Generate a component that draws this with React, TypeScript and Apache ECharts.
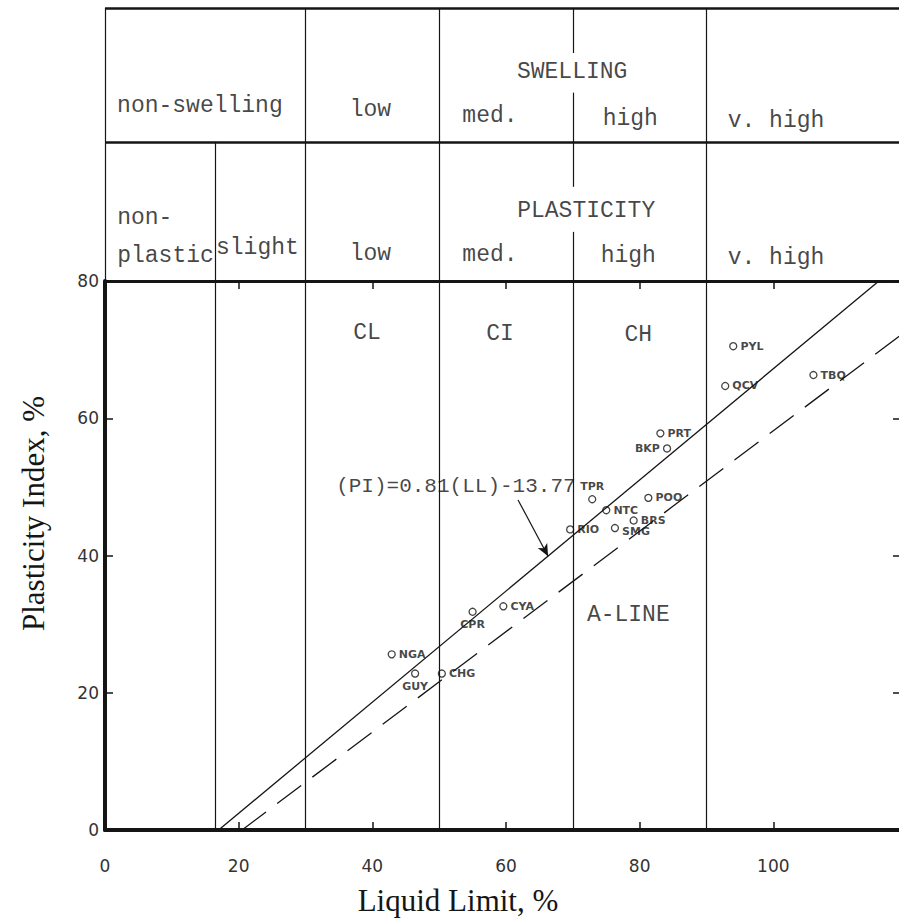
import React, { useEffect, useRef } from 'react';
import * as echarts from 'echarts';

// ---- Sample data ----
const sampleNames = ['PYL', 'QCV', 'TBQ', 'PRT', 'BKP', 'TPR', 'NTC', 'POO', 'BRS', 'RIO', 'SMG', 'NGA', 'GUY', 'CHG', 'CPR', 'CYA'];
const liquidLimit = [94.0, 92.8, 106.0, 83.1, 84.1, 72.9, 75.0, 81.3, 79.1, 69.6, 76.3, 42.9, 46.4, 50.4, 55.0, 59.6];
const plasticityIndex = [70.5, 64.7, 66.3, 57.8, 55.6, 48.2, 46.6, 48.4, 45.1, 43.8, 44.0, 25.6, 22.8, 22.8, 31.8, 32.6];
const labelSides = ['right', 'right', 'right', 'right', 'left', 'top', 'right', 'right', 'right', 'right', 'right', 'right', 'bottom', 'right', 'bottom', 'right'];

// Lines
const fitLineEnds = [[17, 0], [115.8, 80]];
const aLineEnds = [[20.5, 0], [120, 72.8]];
const boundaryLL = [16.5, 30, 50, 70, 90];
const arrowEnds = [[61.8, 48.1], [66.3, 39.9]];

// Axis
const xMin = 0, xMax = 120, xStep = 20;
const yMin = 0, yMax = 80, yStep = 20;

// Region annotations inside the plot
const regionTexts = ['CL', 'CI', 'CH', 'A-LINE', '(PI)=0.81(LL)-13.77'];
const regionLL = [39.2, 59.1, 79.8, 78.3, 52.5];
const regionPI = [72.4, 72.3, 72.2, 31.3, 50.1];

// Classification table (rows: 0-1 plasticity, 1-2 swelling)
const tableTexts = ['SWELLING', 'non-swelling', 'low', 'med.', 'high', 'v. high', 'PLASTICITY', 'non-\nplastic', 'slight', 'low', 'med.', 'high', 'v. high'];
const tableLL = [69.9, 14.2, 39.7, 57.6, 78.6, 100.4, 72.0, 1.0, 22.8, 39.7, 57.6, 78.3, 100.4];
const tableRow = [1.53, 1.28, 1.25, 1.21, 1.19, 1.17, 0.51, 0.32, 0.24, 0.2, 0.19, 0.18, 0.17];
const tableVLines = [[0, 0, 2], [16.5, 0, 1.02], [30, 0, 2], [50, 0, 2], [90, 0, 2], [70, 1.67, 2], [70, 0.69, 1.38], [70, 0, 0.36]];
const tableHLines = [2, 1.02];

const INK = '#151515';
const MONO = 'Liberation Mono';

export default function App() {
  const ref = useRef<HTMLDivElement>(null);
  useEffect(() => {
    if (!ref.current) return;
    const chart = echarts.init(ref.current, undefined, { renderer: 'svg' });

    const points = sampleNames.map((n, i) => ({
      name: n,
      value: [liquidLimit[i], plasticityIndex[i]],
      label: n === 'SMG' ? { position: 'right', offset: [0, 3] } : { position: labelSides[i] },
    }));

    const regions = regionTexts.map((t, i) => ({
      name: t,
      value: [regionLL[i], regionPI[i]],
      label: { fontSize: t.length > 6 ? 21 : 23 },
    }));
    const tableItems = tableTexts.map((t, i) => ({
      name: t,
      value: [tableLL[i], tableRow[i]],
      label: t.startsWith('non-\n')
        ? { position: 'right', align: 'left', lineHeight: 38 }
        : { position: 'inside' },
    }));

    const tableLines: any[] = [];
    tableHLines.forEach((y) => {
      tableLines.push([{ coord: [xMin, y], lineStyle: { width: 2.5, color: INK } }, { coord: [xMax, y] }]);
    });
    tableVLines.forEach(([x, y0, y1]) => {
      tableLines.push([{ coord: [x, y0], lineStyle: { width: 1.2, color: INK } }, { coord: [x, y1] }]);
    });

    const option: any = {
      animation: false,
      backgroundColor: '#ffffff',
      grid: [
        { left: 105, top: 281, width: 802, height: 549, outerBoundsMode: 'none', containLabel: false },
        { left: 105, top: 8, width: 802, height: 273, outerBoundsMode: 'none', containLabel: false },
      ],
      xAxis: [
        {
          gridIndex: 0, type: 'value', min: xMin, max: xMax, interval: xStep, position: 'bottom',
          axisLine: { onZero: false, lineStyle: { color: INK, width: 4 } },
          axisTick: { inside: true, length: 8, lineStyle: { color: INK, width: 1.5 } },
          axisLabel: {
            margin: 27, fontFamily: 'DejaVu Sans', fontSize: 17, color: '#333',
            formatter: (v: number) => (v === xMax ? '' : String(v)),
          },
          splitLine: { show: false },
          name: 'Liquid Limit, %', nameLocation: 'middle', nameGap: 55,
          nameTextStyle: { fontFamily: 'Liberation Serif', fontSize: 31, color: INK, padding: [0, 96, 0, 0] },
        },
        {
          gridIndex: 0, type: 'value', min: xMin, max: xMax, interval: xStep, position: 'top',
          axisLine: { onZero: false, lineStyle: { color: INK, width: 3 } },
          axisTick: { inside: true, length: 8, lineStyle: { color: INK, width: 1.5 } },
          axisLabel: { show: false },
          splitLine: { show: false },
        },
        { gridIndex: 1, type: 'value', min: xMin, max: xMax, show: false },
      ],
      yAxis: [
        {
          gridIndex: 0, type: 'value', min: yMin, max: yMax, interval: yStep, position: 'left',
          axisLine: { onZero: false, lineStyle: { color: INK, width: 4 } },
          axisTick: { inside: true, length: 8, lineStyle: { color: INK, width: 1.5 } },
          axisLabel: { margin: 6, fontFamily: 'DejaVu Sans', fontSize: 17, color: '#333' },
          splitLine: { show: false },
          name: 'Plasticity Index, %', nameLocation: 'middle', nameGap: 56,
          nameTextStyle: { fontFamily: 'Liberation Serif', fontSize: 31, color: INK, padding: [0, 0, 0, 84] },
        },
        {
          gridIndex: 0, type: 'value', min: yMin, max: yMax, interval: yStep, position: 'right',
          axisLine: { show: false, onZero: false },
          axisTick: { inside: true, length: 14, lineStyle: { color: INK, width: 1.5 } },
          axisLabel: { show: false },
          splitLine: { show: false },
        },
        { gridIndex: 1, type: 'value', min: 0, max: 2, show: false },
      ],
      series: [
        {
          name: 'boundaries', type: 'line', xAxisIndex: 0, yAxisIndex: 0, data: [],
          markLine: {
            silent: true, symbol: ['none', 'none'], label: { show: false },
            lineStyle: { color: INK, width: 1.2, type: 'solid' },
            data: boundaryLL.map((v) => ({ xAxis: v })),
          },
        },
        {
          name: 'fit', type: 'line', xAxisIndex: 0, yAxisIndex: 0, data: fitLineEnds,
          symbol: 'none', lineStyle: { color: INK, width: 1.3 },
          markLine: {
            silent: true, symbol: ['none', 'arrow'], symbolSize: [8, 12], label: { show: false },
            lineStyle: { color: INK, width: 1.2, type: 'solid' },
            data: [[{ coord: arrowEnds[0] }, { coord: arrowEnds[1] }]],
          },
        },
        {
          name: 'A-line', type: 'line', xAxisIndex: 0, yAxisIndex: 0, data: aLineEnds,
          symbol: 'none', lineStyle: { color: INK, width: 1.3, type: [30, 14] },
        },
        {
          name: 'samples', type: 'scatter', xAxisIndex: 0, yAxisIndex: 0, data: points,
          symbol: 'circle', symbolSize: 7,
          itemStyle: { color: '#fff', borderColor: INK, borderWidth: 1.3 },
          label: {
            show: true, formatter: '{b}', distance: 3,
            fontFamily: 'DejaVu Sans', fontWeight: 'bold', fontSize: 11, color: INK,
          },
        },
        {
          name: 'regions', type: 'scatter', xAxisIndex: 0, yAxisIndex: 0, data: regions,
          symbolSize: 1, itemStyle: { color: 'rgba(0,0,0,0)' }, silent: true,
          label: { show: true, position: 'inside', formatter: '{b}', fontFamily: MONO, fontSize: 21, color: INK },
        },
        {
          name: 'table', type: 'scatter', xAxisIndex: 2, yAxisIndex: 2, data: tableItems,
          symbolSize: 1, itemStyle: { color: 'rgba(0,0,0,0)' }, silent: true,
          label: { show: true, formatter: '{b}', fontFamily: MONO, fontSize: 23, color: INK },
          markLine: {
            silent: true, symbol: ['none', 'none'], label: { show: false },
            lineStyle: { color: INK, type: 'solid' },
            data: tableLines,
          },
        },
      ],
    };
    chart.setOption(option);
    return () => chart.dispose();
  }, []);
  return (
    <div
      ref={ref}
      style={{ position: 'absolute', left: 0, top: 0, width: 899, height: 921, background: '#fff' }}
    />
  );
}
